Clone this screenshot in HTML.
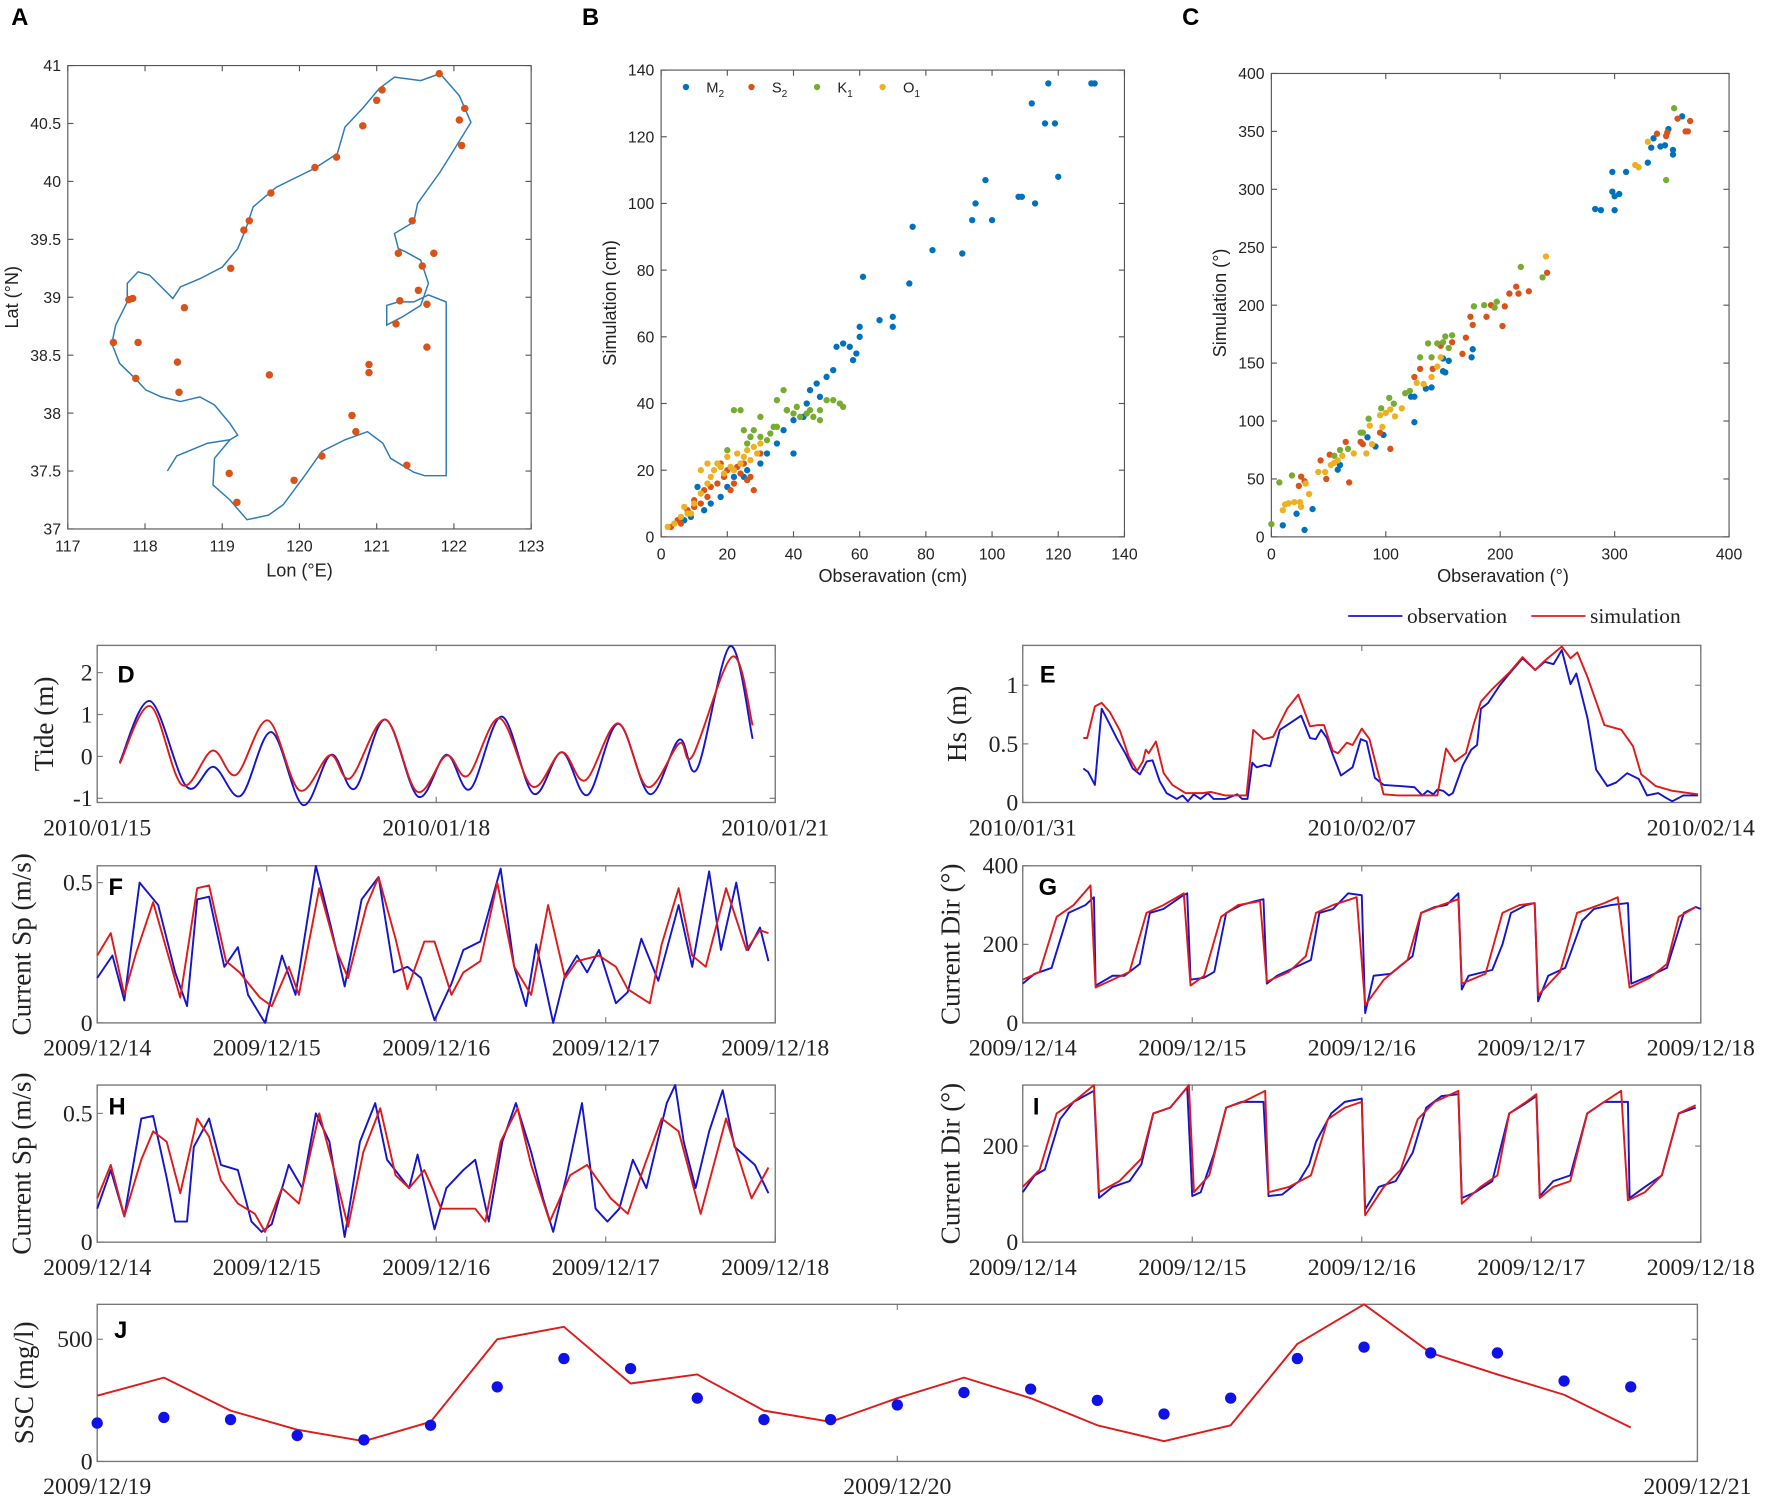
<!DOCTYPE html>
<html><head><meta charset="utf-8"><style>
html,body{margin:0;padding:0;background:#fff}
svg{display:block}
.sans{font-family:"Liberation Sans",sans-serif}
.serif{font-family:"Liberation Serif",serif}
</style></head><body>
<svg id="fig" width="1772" height="1501" viewBox="0 0 1568 1328" preserveAspectRatio="none" xmlns="http://www.w3.org/2000/svg"></svg>
<script>
// ---------- Panel A data ----------
const coastLon=[119.10,118.90,118.88,119.10,119.32,119.60,119.79,120.09,120.29,120.59,120.88,121.08,121.18,121.48,121.62,121.90,121.90,121.67,121.48,121.28,121.13,121.13,121.33,121.57,121.67,121.57,121.38,121.28,121.23,121.48,121.53,121.82,121.97,122.22,122.07,121.82,121.57,121.23,121.03,120.83,120.59,120.49,120.19,119.70,119.40,119.30,119.20,119.00,118.71,118.46,118.36,118.21,118.06,117.91,117.77,117.77,117.62,117.57,117.67,117.87,118.01,118.21,118.46,118.71,118.90,119.10,119.20,119.10];
const coastLat=[37.77,37.61,37.38,37.25,37.08,37.12,37.21,37.48,37.67,37.77,37.84,37.74,37.61,37.49,37.46,37.46,38.96,39.02,38.96,38.96,38.93,38.76,38.83,38.93,39.12,39.32,39.39,39.42,39.55,39.65,39.81,40.08,40.24,40.51,40.74,40.93,40.87,40.90,40.80,40.64,40.47,40.24,40.11,39.95,39.78,39.58,39.42,39.26,39.16,39.09,38.99,39.09,39.19,39.22,39.12,38.96,38.76,38.60,38.43,38.30,38.20,38.14,38.10,38.14,38.07,37.91,37.81,37.77];
const riverLon=[118.29,118.41,118.81,119.10];
const riverLat=[37.50,37.63,37.74,37.77];
const stLon=[121.81,121.07,121.00,122.14,122.07,120.82,122.10,120.48,120.20,119.63,119.35,119.28,119.11,117.84,117.79,118.51,117.59,117.91,118.42,117.88,118.44,119.61,120.90,120.90,120.68,120.73,120.29,119.93,119.09,119.19,121.39,121.46,121.28,121.74,121.59,121.54,121.30,121.65,121.25,121.65];
const stLat=[40.93,40.79,40.70,40.63,40.53,40.48,40.31,40.21,40.12,39.90,39.66,39.58,39.25,38.99,38.98,38.91,38.61,38.61,38.44,38.30,38.18,38.33,38.42,38.35,37.98,37.84,37.63,37.42,37.48,37.23,37.55,39.66,39.38,39.38,39.27,39.06,38.97,38.94,38.77,38.57];
const aLonTicks=[117,118,119,120,121,122,123];
const aLatTicks=[37,37.5,38,38.5,39,39.5,40,40.5,41];
// ---------- Panel B data ----------
const bM2Obs=[130,131,117,112,116,119,120,113,109,108,100,98,95,94,91,82,76,75,70,70,66,61,60,60,59,57,55,53,52,50,47,44,43,40,40,37,35,32,30,27,26,25,22,20,18,15,13,11,9,7,45,58,48,38];
const bM2Sim=[136,136,136,130,124,124,108,100,102,102,95,107,100,95,85,86,93,76,66,63,65,78,63,60,55,57,58,57,50,48,46,40,36,35,25,32,28,25,22,30,20,18,18,15,12,10,8,15,6,5,44,53,42,38];
const bS2Obs=[3,5,8,10,12,14,15,17,19,20,22,24,25,27,28,30,18,13,21,26,10,6,23];
const bS2Sim=[3,5,8,9,10,12,15,16,18,20,16,19,22,18,14,25,22,14,14,17,11,4,21];
const bK1Obs=[22,24,25,27,28,30,32,34,35,37,38,40,42,44,46,48,50,52,54,55,35,33,41,45,18,20,26,30,48];
const bK1Sim=[38,38,32,30,32,30,29,33,41,44,38,37,36,37,36,35,41,41,40,39,33,31,39,38,21,26,28,36,38];
const bO1Obs=[2,4,6,8,10,12,14,15,16,17,18,19,20,21,22,23,24,25,26,27,28,29,30,12,14,9,7];
const bO1Sim=[3,4,6,7,10,13,16,18,20,22,21,19,24,21,20,25,22,24,26,23,27,25,28,20,22,7,9];
// ---------- Panel C data ----------
const cBlueObs=[10,22,29,36,58,60,84,91,98,125,122,125,135,140,152,150,155,150,175,176,283,288,300,298,300,298,310,304,329,332,340,344,351,351,347,359,334];
const cBlueSim=[10,20,6,24,58,62,86,78,88,99,121,121,128,129,142,143,152,154,155,162,283,282,282,298,294,315,315,296,323,336,337,338,330,334,352,363,344];
const cRedObs=[24,26,29,43,48,51,68,65,78,80,95,104,125,130,141,148,158,170,167,174,176,188,192,195,202,204,208,214,216,225,241,337,345,346,355,362,364,366];
const cRedSim=[44,52,48,66,50,71,47,82,82,80,90,76,138,145,145,165,168,172,158,190,183,190,200,198,182,199,210,216,210,212,228,348,346,349,361,350,350,359];
const cGreenObs=[0,7,18,55,60,67,78,80,85,96,103,107,117,121,130,137,140,145,150,152,158,155,177,186,197,195,218,237,352,345];
const cGreenSim=[11,47,53,70,75,76,90,90,102,111,120,115,124,126,155,167,155,167,168,173,174,163,199,200,203,198,233,224,370,308];
const cYellowObs=[10,12,15,20,25,26,30,33,41,47,52,55,58,62,72,83,86,88,97,95,100,104,108,114,127,133,140,145,148,240,318,321,329];
const cYellowSim=[23,28,29,30,30,26,46,37,56,56,62,64,66,70,72,72,96,80,95,105,107,110,104,111,133,132,138,147,155,242,321,319,341];
const bcTicks=[0,20,40,60,80,100,120,140];
const cTicks=[0,50,100,150,200,250,300,350,400];
const cXTicks=[0,100,200,300,400];
// ---------- Panel D (tide) ----------
const dObsT=[0.20,0.47,0.79,1.03,1.27,1.54,1.82,2.07,2.28,2.55,2.84,3.09,3.30,3.58,3.86,4.11,4.34,4.61,4.89,5.15,5.31,5.60,5.80];
const dObsV=[-0.14,1.32,-0.72,-0.25,-0.94,0.58,-1.16,0.04,-0.77,0.88,-0.96,0.04,-0.78,0.95,-0.89,0.10,-0.92,0.78,-0.90,0.40,-0.29,2.63,0.42];
const dSimT=[0.20,0.47,0.75,1.02,1.23,1.51,1.79,2.06,2.24,2.55,2.83,3.09,3.28,3.56,3.85,4.11,4.32,4.61,4.87,5.15,5.27,5.62,5.80];
const dSimV=[-0.17,1.20,-0.68,0.14,-0.44,0.86,-0.81,0.03,-0.52,0.88,-0.84,0.02,-0.46,0.91,-0.72,0.10,-0.57,0.79,-0.73,0.31,0.02,2.38,0.74];
const dTickLabels=["2010/01/15","2010/01/18","2010/01/21"];
// ---------- Panel E (Hs) ----------
const eObsT=[1.25,1.35,1.49,1.63,1.78,1.95,2.13,2.27,2.42,2.56,2.68,2.83,2.97,3.18,3.30,3.41,3.53,3.67,3.82,3.94,4.18,4.43,4.53,4.64,4.74,4.83,5.0,5.11,5.31,5.75,5.93,6.05,6.16,6.28,6.40,6.57,6.81,6.98,7.10,7.27,7.45,7.80,8.09,8.25,8.36,8.48,8.56,8.68,8.80,8.88,9.09,9.26,9.38,9.46,9.61,9.85,10.05,10.32,10.58,10.78,10.96,11.13,11.31,11.43,11.66,11.84,12.07,12.25,12.48,12.72,12.89,13.12,13.28,13.41,13.64,13.94];
const eObsV=[0.29,0.26,0.15,0.80,0.68,0.54,0.41,0.29,0.24,0.35,0.36,0.18,0.08,0.03,0.06,0.01,0.07,0.03,0.08,0.03,0.03,0.07,0.03,0.03,0.34,0.30,0.32,0.31,0.62,0.74,0.55,0.54,0.62,0.55,0.41,0.23,0.30,0.54,0.52,0.21,0.15,0.14,0.13,0.06,0.10,0.07,0.11,0.10,0.06,0.08,0.32,0.45,0.49,0.80,0.85,1.0,1.10,1.23,1.13,1.20,1.18,1.30,1.01,1.10,0.72,0.28,0.14,0.17,0.25,0.20,0.06,0.08,0.04,0.01,0.06,0.06];
const eSimT=[1.25,1.33,1.49,1.63,1.80,2.01,2.19,2.36,2.48,2.54,2.60,2.75,2.91,3.09,3.36,3.71,3.88,4.18,4.62,4.76,4.97,5.17,5.46,5.69,5.93,6.10,6.22,6.40,6.51,6.69,6.81,7.00,7.16,7.45,7.75,8.56,8.74,8.92,9.15,9.32,9.46,9.70,10.05,10.32,10.58,10.78,11.13,11.31,11.45,11.66,12.01,12.36,12.60,12.77,13.07,13.41,13.94];
const eSimV=[0.55,0.55,0.82,0.85,0.77,0.61,0.39,0.27,0.35,0.45,0.42,0.52,0.25,0.15,0.08,0.08,0.09,0.06,0.06,0.62,0.54,0.56,0.80,0.92,0.65,0.66,0.66,0.44,0.42,0.51,0.49,0.63,0.54,0.07,0.06,0.06,0.46,0.35,0.42,0.68,0.86,0.97,1.11,1.24,1.13,1.21,1.33,1.23,1.28,1.07,0.66,0.62,0.48,0.24,0.14,0.10,0.07];
const eTickLabels=["2010/01/31","2010/02/07","2010/02/14"];
// ---------- Panel F (current speed) ----------
const fObsT=[0,0.09,0.16,0.25,0.36,0.46,0.53,0.59,0.66,0.75,0.83,0.89,0.99,1.09,1.17,1.29,1.38,1.46,1.56,1.66,1.75,1.83,1.91,1.99,2.09,2.16,2.26,2.38,2.46,2.53,2.59,2.69,2.76,2.83,2.89,2.96,3.06,3.13,3.21,3.31,3.43,3.51,3.61,3.68,3.77,3.84,3.91,3.96];
const fObsV=[0.16,0.24,0.08,0.50,0.42,0.18,0.06,0.44,0.45,0.20,0.27,0.10,0.0,0.24,0.10,0.56,0.34,0.13,0.44,0.52,0.18,0.20,0.16,0.01,0.14,0.26,0.29,0.55,0.20,0.06,0.28,0.0,0.17,0.24,0.18,0.26,0.07,0.11,0.30,0.15,0.42,0.20,0.54,0.26,0.50,0.26,0.34,0.22];
const fSimT=[0,0.08,0.16,0.23,0.33,0.41,0.49,0.59,0.66,0.76,0.84,0.96,1.03,1.13,1.19,1.31,1.41,1.48,1.59,1.66,1.76,1.83,1.93,1.99,2.09,2.16,2.26,2.36,2.46,2.56,2.66,2.76,2.83,2.96,3.06,3.13,3.26,3.33,3.43,3.51,3.59,3.71,3.83,3.91,3.96];
const fSimV=[0.24,0.32,0.10,0.25,0.43,0.26,0.09,0.48,0.49,0.22,0.18,0.09,0.06,0.20,0.10,0.48,0.26,0.16,0.42,0.52,0.30,0.12,0.29,0.29,0.10,0.18,0.22,0.50,0.20,0.10,0.42,0.16,0.22,0.24,0.20,0.12,0.07,0.28,0.48,0.24,0.20,0.48,0.26,0.33,0.32];
const tsTickLabels=["2009/12/14","2009/12/15","2009/12/16","2009/12/17","2009/12/18"];
// ---------- Panel G (current direction) ----------
const gObsT=[0,0.07,0.17,0.27,0.37,0.42,0.43,0.53,0.60,0.69,0.75,0.83,0.93,0.97,0.99,1.07,1.13,1.20,1.29,1.37,1.42,1.44,1.50,1.60,1.70,1.75,1.83,1.92,2.00,2.02,2.07,2.17,2.30,2.35,2.43,2.50,2.57,2.59,2.63,2.77,2.83,2.88,2.97,3.02,3.04,3.10,3.20,3.30,3.37,3.47,3.57,3.59,3.70,3.80,3.90,3.97,4.0];
const gObsV=[100,125,140,280,300,320,95,120,120,150,280,290,320,330,110,115,130,280,300,310,315,100,120,140,160,280,290,330,325,25,120,125,170,280,295,300,330,85,120,135,200,280,300,305,55,120,140,260,290,300,305,100,120,140,280,295,290];
const gSimT=[0,0.10,0.20,0.30,0.40,0.43,0.53,0.63,0.73,0.83,0.95,0.99,1.07,1.17,1.27,1.40,1.44,1.57,1.67,1.73,1.83,1.97,2.02,2.13,2.27,2.35,2.47,2.57,2.59,2.73,2.83,2.93,3.02,3.04,3.17,3.27,3.43,3.51,3.58,3.70,3.80,3.87,3.97];
const gSimV=[110,130,270,300,350,90,110,130,280,300,330,95,120,270,300,310,105,130,170,280,300,320,45,110,160,280,300,315,100,125,280,300,305,70,130,280,305,320,90,115,150,270,295];
// ---------- Panel H (current speed) ----------
const hObsT=[0,0.08,0.16,0.26,0.33,0.41,0.46,0.53,0.57,0.66,0.73,0.83,0.91,0.97,1.03,1.13,1.21,1.29,1.37,1.46,1.55,1.64,1.71,1.84,1.89,1.99,2.06,2.16,2.23,2.31,2.39,2.47,2.56,2.63,2.69,2.77,2.86,2.94,3.01,3.08,3.16,3.24,3.36,3.41,3.46,3.53,3.61,3.69,3.76,3.88,3.96];
const hObsV=[0.13,0.28,0.10,0.48,0.49,0.25,0.08,0.08,0.37,0.48,0.30,0.28,0.08,0.04,0.07,0.30,0.21,0.50,0.39,0.02,0.39,0.54,0.32,0.21,0.34,0.05,0.21,0.28,0.32,0.08,0.39,0.54,0.35,0.17,0.04,0.26,0.54,0.13,0.08,0.13,0.32,0.21,0.54,0.61,0.39,0.21,0.43,0.59,0.37,0.30,0.19];
const hSimT=[0,0.08,0.16,0.26,0.33,0.41,0.49,0.59,0.66,0.73,0.83,0.93,0.99,1.09,1.19,1.31,1.39,1.48,1.57,1.67,1.76,1.84,1.93,2.03,2.13,2.23,2.29,2.38,2.48,2.56,2.67,2.79,2.89,3.03,3.13,3.23,3.33,3.43,3.56,3.71,3.86,3.96];
const hSimV=[0.17,0.30,0.10,0.32,0.43,0.39,0.19,0.48,0.41,0.24,0.15,0.11,0.04,0.21,0.15,0.50,0.30,0.06,0.35,0.52,0.26,0.21,0.28,0.13,0.13,0.13,0.08,0.39,0.52,0.30,0.08,0.26,0.30,0.17,0.11,0.30,0.48,0.43,0.11,0.48,0.17,0.29];
// ---------- Panel I (current direction) ----------
const iObsT=[0,0.07,0.13,0.22,0.30,0.42,0.45,0.53,0.63,0.70,0.77,0.87,0.97,1.0,1.05,1.13,1.20,1.29,1.42,1.45,1.53,1.63,1.69,1.73,1.82,1.90,2.0,2.02,2.10,2.20,2.30,2.38,2.47,2.57,2.59,2.67,2.77,2.87,2.95,3.03,3.05,3.13,3.23,3.33,3.43,3.57,3.58,3.67,3.77,3.87,3.97];
const iObsV=[104,139,151,256,292,315,92,115,127,162,268,280,322,96,104,186,280,292,292,96,99,127,162,209,268,292,299,68,115,127,186,280,304,308,92,104,127,268,285,304,96,127,139,268,292,292,92,115,139,268,280];
const iSimT=[0,0.10,0.20,0.30,0.42,0.45,0.57,0.70,0.77,0.87,0.98,1.01,1.10,1.20,1.30,1.43,1.45,1.57,1.70,1.80,1.90,2.0,2.02,2.13,2.23,2.33,2.43,2.57,2.59,2.70,2.80,2.87,2.97,3.03,3.05,3.13,3.23,3.33,3.43,3.53,3.57,3.67,3.77,3.87,3.97];
const iSimV=[115,151,268,292,327,104,127,174,268,280,327,104,139,280,292,315,104,115,139,256,280,292,56,115,151,256,292,315,80,115,139,268,292,308,92,115,127,268,292,315,87,104,139,268,285];
// ---------- Panel J (SSC) ----------
const jHours=[0,2,4,6,8,10,12,14,16,18,20,22,24,26,28,30,32,34,36,38,40,42,44,46];
const jObs=[157,180,171,106,88,148,305,421,380,259,171,171,231,282,296,250,194,259,421,468,444,444,329,305];
const jSim=[269,343,208,130,83,162,500,551,319,356,208,162,259,343,259,148,83,148,481,643,444,356,273,139];
const jTickLabels=["2009/12/19","2009/12/20","2009/12/21"];

const NS="http://www.w3.org/2000/svg";
const svg=document.getElementById('fig');
function mk(tag,parent){const e=document.createElementNS(NS,tag);(parent||svg).appendChild(e);return e;}
function txt(parent,x,y,s,size,cls,anchor){const t=mk('text',parent);t.setAttribute('x',x);t.setAttribute('y',y);t.setAttribute('font-size',size);t.setAttribute('class',cls);t.setAttribute('text-anchor',anchor||'middle');t.setAttribute('fill','#222');t.textContent=s;return t;}
function lin(d0,d1,r0,r1){return v=>r0+(v-d0)/(d1-d0)*(r1-r0);}

function sansAxes(g,box,xs,ys,xt,yt,xfmt,yfmt){
  const r=mk('rect',g);r.setAttribute('x',box.x);r.setAttribute('y',box.y);r.setAttribute('width',box.w);r.setAttribute('height',box.h);r.setAttribute('fill','none');r.setAttribute('stroke','#555');r.setAttribute('stroke-width','1');
  xt.forEach(v=>{const x=xs(v);
    [[box.y+box.h,-5],[box.y,5]].forEach(([y0,dy])=>{const l=mk('line',g);l.setAttribute('x1',x);l.setAttribute('x2',x);l.setAttribute('y1',y0);l.setAttribute('y2',y0+dy);l.setAttribute('stroke','#555');});
    const t=txt(g,x,box.y+box.h+20,xfmt(v),14,'sans');
    
    });
  yt.forEach(v=>{const y=ys(v);
    [[box.x,5],[box.x+box.w,-5]].forEach(([x0,dx])=>{const l=mk('line',g);l.setAttribute('x1',x0);l.setAttribute('x2',x0+dx);l.setAttribute('y1',y);l.setAttribute('y2',y);l.setAttribute('stroke','#555');});
    const t=txt(g,box.x-6,y+5,yfmt(v),14,'sans','end');
    
    });
}
function dots(g,xs,ys,X,Y,color,r,name){
  for(let i=0;i<Math.min(X.length,Y.length);i++){const c=mk('circle',g);c.setAttribute('cx',xs(X[i]));c.setAttribute('cy',ys(Y[i]));c.setAttribute('r',r);c.setAttribute('fill',color);
    
    }
}
function letter(x,y,s){const t=txt(svg,x,y,s,21,'sans','start');t.setAttribute('font-weight','bold');t.setAttribute('fill','#000');
  
  }

(function(){
  const g=mk('g');
  const box={x:60,y:58,w:410,h:410};
  const xs=lin(117,123,box.x,box.x+box.w), ys=lin(37,41,box.y+box.h,box.y);
  sansAxes(g,box,xs,ys,aLonTicks,aLatTicks,v=>String(v),v=>String(v));
  const p=mk('polyline',g);p.setAttribute('points',coastLon.map((v,i)=>xs(v)+','+ys(coastLat[i])).join(' '));p.setAttribute('fill','none');p.setAttribute('stroke','#2b7bb9');p.setAttribute('stroke-width','1.3');
  
  
  const rv=mk('polyline',g);rv.setAttribute('points',riverLon.map((v,i)=>xs(v)+','+ys(riverLat[i])).join(' '));rv.setAttribute('fill','none');rv.setAttribute('stroke','#2b7bb9');rv.setAttribute('stroke-width','1.3');
  
  
  dots(g,xs,ys,stLon,stLat,'#D95319',3.3,'station-dot');
  let t=txt(g,265,510,'Lon (°E)',16,'sans');
  t=txt(g,0,0,'Lat (°N)',16,'sans');t.setAttribute('transform','translate(16,263) rotate(-90)');
})();
letter(10,22,'A');
(function(){
  const g=mk('g');
  const box={x:585,y:62,w:410,h:413};
  const xs=lin(0,140,box.x,box.x+box.w), ys=lin(0,140,box.y+box.h,box.y);
  sansAxes(g,box,xs,ys,bcTicks,bcTicks,v=>String(v),v=>String(v));
  dots(g,xs,ys,bM2Obs,bM2Sim,'#0072BD',2.8,'m2-point');
  dots(g,xs,ys,bS2Obs,bS2Sim,'#D95319',2.8,'s2-point');
  dots(g,xs,ys,bK1Obs,bK1Sim,'#77AC30',2.8,'k1-point');
  dots(g,xs,ys,bO1Obs,bO1Sim,'#EDB120',2.8,'o1-point');
  const leg=[['M','2','#0072BD',607],['S','2','#D95319',665],['K','1','#77AC30',723],['O','1','#EDB120',781]];
  leg.forEach(([a,b,c,x])=>{const ci=mk('circle',g);ci.setAttribute('cx',x);ci.setAttribute('cy',77);ci.setAttribute('r',2.8);ci.setAttribute('fill',c);
    const t=txt(g,x+18,82,a,13,'sans','start');const s=mk('tspan',t);s.setAttribute('font-size','9');s.setAttribute('dy','4');s.textContent=b;
    
    });
  let t=txt(g,790,515,'Obseravation (cm)',16,'sans');
  t=txt(g,0,0,'Simulation (cm)',16,'sans');t.setAttribute('transform','translate(545,268) rotate(-90)');
})();
letter(515,22,'B');
(function(){
  const g=mk('g');
  const box={x:1125,y:65,w:405,h:410};
  const xs=lin(0,400,box.x,box.x+box.w), ys=lin(0,400,box.y+box.h,box.y);
  sansAxes(g,box,xs,ys,cXTicks,cTicks,v=>String(v),v=>String(v));
  dots(g,xs,ys,cBlueObs,cBlueSim,'#0072BD',2.8,'m2-point');
  dots(g,xs,ys,cRedObs,cRedSim,'#D95319',2.8,'s2-point');
  dots(g,xs,ys,cGreenObs,cGreenSim,'#77AC30',2.8,'k1-point');
  dots(g,xs,ys,cYellowObs,cYellowSim,'#EDB120',2.8,'o1-point');
  let t=txt(g,1330,515,'Obseravation (°)',16,'sans');
  t=txt(g,0,0,'Simulation (°)',16,'sans');t.setAttribute('transform','translate(1085,268) rotate(-90)');
})();
letter(1046,22,'C');
(function(){
  const g=mk('g');
  [[1193,'#1515d0','observation'],[1355,'#e01a1a','simulation']].forEach(([x,c,s])=>{
    const l=mk('line',g);l.setAttribute('x1',x);l.setAttribute('x2',x+48);l.setAttribute('y1',545);l.setAttribute('y2',545);l.setAttribute('stroke',c);l.setAttribute('stroke-width','1.6');
    const t=txt(g,x+52,551,s,19,'serif','start');
    
    });
})();

function smoothPath(P){let d='M'+P[0][0]+','+P[0][1];for(let i=0;i<P.length-1;i++){const p0=P[i-1]||P[i],p1=P[i],p2=P[i+1],p3=P[i+2]||p2;
  const c1=[p1[0]+(p2[0]-p0[0])/6,p1[1]+(p2[1]-p0[1])/6],c2=[p2[0]-(p3[0]-p1[0])/6,p2[1]-(p3[1]-p1[1])/6];d+=` C${c1} ${c2} ${p2}`;}return d;}
function ts(c){
  const g=mk('g');
  const b=c.box;const xs=lin(c.x0,c.x1,b.x,b.x+b.w), ys=lin(c.y0,c.y1,b.y+b.h,b.y);
  const r=mk('rect',g);r.setAttribute('x',b.x);r.setAttribute('y',b.y);r.setAttribute('width',b.w);r.setAttribute('height',b.h);r.setAttribute('fill','#fff');r.setAttribute('stroke','#777');r.setAttribute('stroke-width','1.2');
  c.xt.forEach((v,i)=>{const x=xs(v);[[b.y+b.h,-5],[b.y,5]].forEach(([y0,dy])=>{const l=mk('line',g);l.setAttribute('x1',x);l.setAttribute('x2',x);l.setAttribute('y1',y0);l.setAttribute('y2',y0+dy);l.setAttribute('stroke','#777');});
    if(c.xl[i]){const t=txt(g,x,b.y+b.h+29,c.xl[i],21,'serif');}});
  c.yt.forEach(v=>{const y=ys(v);[[b.x,5],[b.x+b.w,-5]].forEach(([x0,dx])=>{const l=mk('line',g);l.setAttribute('x1',x0);l.setAttribute('x2',x0+dx);l.setAttribute('y1',y);l.setAttribute('y2',y);l.setAttribute('stroke','#777');});
    const t=txt(g,b.x-4,y+7,String(v),21,'serif','end');});
  c.series.forEach(s=>{
    const P=[];for(let i=0;i<Math.min(s.t.length,s.v.length);i++)P.push([xs(s.t[i]),ys(s.v[i])]);
    if(s.dots){P.forEach(p=>{const ci=mk('circle',g);ci.setAttribute('cx',p[0]);ci.setAttribute('cy',p[1]);ci.setAttribute('r',5);ci.setAttribute('fill',s.color);
      
      });return;}
    const p=mk('path',g);p.setAttribute('d',s.smooth?smoothPath(P):'M'+P.map(q=>q.join(',')).join(' L'));p.setAttribute('fill','none');p.setAttribute('stroke',s.color);p.setAttribute('stroke-width','1.7');p.setAttribute('stroke-linejoin','round');
    
    });
  const yl=txt(g,0,0,c.ylabel,24,'serif');yl.setAttribute('transform',`translate(${c.ylx},${b.y+b.h/2}) rotate(-90)`);
  
  
  letter(c.lx,c.ly,c.letter);
}
const BL='#1515d0',RD='#e01a1a';
ts({name:'panel-d-tide',box:{x:86,y:571,w:600,h:139},x0:0,x1:6,y0:-1.1,y1:2.65,xt:[0,3,6],xl:dTickLabels,yt:[-1,0,1,2],ylabel:'Tide (m)',ylx:47,letter:'D',lx:104,ly:604,
  series:[{t:dObsT,v:dObsV,color:BL,smooth:true,label:'observation-line'},{t:dSimT,v:dSimV,color:RD,smooth:true,label:'simulation-line'}]});
ts({name:'panel-e-wave-height',box:{x:905,y:571,w:600,h:139},x0:0,x1:14,y0:0,y1:1.34,xt:[0,7,14],xl:eTickLabels,yt:[0,0.5,1],ylabel:'Hs (m)',ylx:855,letter:'E',lx:920,ly:604,
  series:[{t:eObsT,v:eObsV,color:BL,label:'observation-line'},{t:eSimT,v:eSimV,color:RD,label:'simulation-line'}]});
ts({name:'panel-f-current-speed',box:{x:86,y:766,w:600,h:139},x0:0,x1:4,y0:0,y1:0.56,xt:[0,1,2,3,4],xl:tsTickLabels,yt:[0,0.5],ylabel:'Current Sp (m/s)',ylx:27,letter:'F',lx:96,ly:792,
  series:[{t:fObsT,v:fObsV,color:BL,label:'observation-line'},{t:fSimT,v:fSimV,color:RD,label:'simulation-line'}]});
ts({name:'panel-g-current-direction',box:{x:905,y:766,w:600,h:139},x0:0,x1:4,y0:0,y1:400,xt:[0,1,2,3,4],xl:tsTickLabels,yt:[0,200,400],ylabel:'Current Dir (°)',ylx:849,letter:'G',lx:919,ly:792,
  series:[{t:gObsT,v:gObsV,color:BL,label:'observation-line'},{t:gSimT,v:gSimV,color:RD,label:'simulation-line'}]});
ts({name:'panel-h-current-speed',box:{x:86,y:960,w:600,h:139},x0:0,x1:4,y0:0,y1:0.61,xt:[0,1,2,3,4],xl:tsTickLabels,yt:[0,0.5],ylabel:'Current Sp (m/s)',ylx:27,letter:'H',lx:96,ly:986,
  series:[{t:hObsT,v:hObsV,color:BL,label:'observation-line'},{t:hSimT,v:hSimV,color:RD,label:'simulation-line'}]});
ts({name:'panel-i-current-direction',box:{x:905,y:960,w:600,h:139},x0:0,x1:4,y0:0,y1:327,xt:[0,1,2,3,4],xl:tsTickLabels,yt:[0,200],ylabel:'Current Dir (°)',ylx:849,letter:'I',lx:914,ly:986,
  series:[{t:iObsT,v:iObsV,color:BL,label:'observation-line'},{t:iSimT,v:iSimV,color:RD,label:'simulation-line'}]});
ts({name:'panel-j-ssc',box:{x:86,y:1154,w:1416,h:139},x0:0,x1:48,y0:0,y1:643,xt:[0,24,48],xl:jTickLabels,yt:[0,500],ylabel:'SSC (mg/l)',ylx:29,letter:'J',lx:101,ly:1184,
  series:[{t:jHours,v:jSim,color:RD,label:'simulation-line'},{t:jHours,v:jObs,color:'#1010e8',dots:true,label:'observation-points'}]});
</script>
</body></html>
